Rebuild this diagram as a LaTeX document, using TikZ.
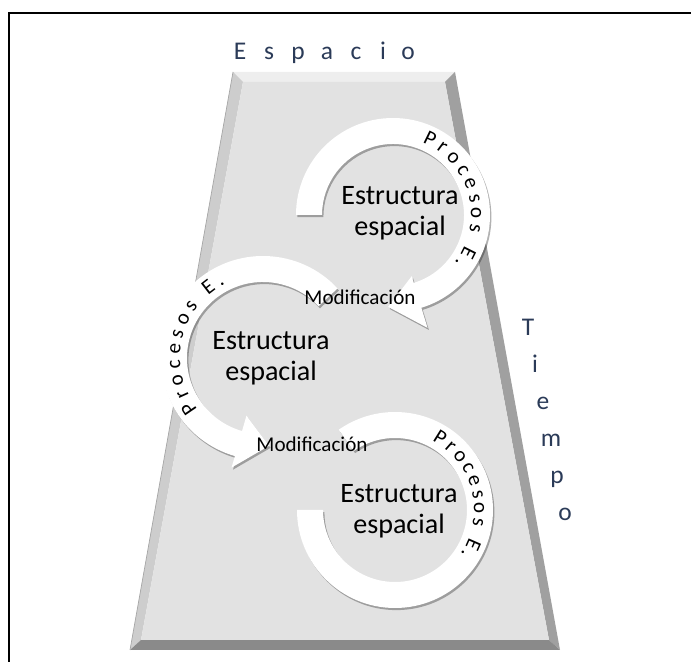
\documentclass[tikz,border=0pt]{standalone}
\usepackage{fontspec}
\setmainfont{Carlito}
\usetikzlibrary{calc,shadows,decorations.text}

\definecolor{letras}{HTML}{2B3B58}
\definecolor{cara}{HTML}{E2E2E2}
\definecolor{biselarriba}{HTML}{EEEEEE}
\definecolor{biselizq}{HTML}{CDCDCD}
\definecolor{biselder}{HTML}{A0A0A0}
\definecolor{biselabajo}{HTML}{8A8A8A}

\tikzset{
  banda/.style={fill=white, drop shadow={shadow xshift=0.8pt, shadow yshift=-1.2pt, opacity=0.3, fill=black}},
  proceso/.style={decorate, decoration={text along path, text align=fit to path,
      text={|\fontsize{12}{14}\selectfont|Procesos E.}}},
  estructura/.style={align=center, font=\fontsize{16}{17.5}\selectfont},
  modif/.style={font=\fontsize{12}{14}\selectfont},
  letra/.style={text=letras, anchor=base, font=\fontsize{14.5}{16}\selectfont}
}

\begin{document}
\begin{tikzpicture}[x=0.02cm, y=-0.02cm]
  \useasboundingbox (0,0) rectangle (691,662);
  \draw[line width=1pt] (9,662) -- (9,13) -- (691,13);

  % trapecio
  \coordinate (tl) at (233,72);
  \coordinate (tr) at (455,72);
  \coordinate (br) at (560,650);
  \coordinate (bl) at (130,650);
  \coordinate (itl) at (243,82);
  \coordinate (itr) at (445,82);
  \coordinate (ibr) at (549,640);
  \coordinate (ibl) at (141,640);
  \fill[biselarriba] (tl) -- (tr) -- (itr) -- (itl) -- cycle;
  \fill[biselizq] (tl) -- (itl) -- (ibl) -- (bl) -- cycle;
  \fill[biselder] (tr) -- (br) -- (ibr) -- (itr) -- cycle;
  \fill[biselabajo] (bl) -- (ibl) -- (ibr) -- (br) -- cycle;
  \fill[cara] (itl) -- (itr) -- (ibr) -- (ibl) -- cycle;
  \draw[gray!70, line width=0.4pt] (tl) -- (bl);

  \foreach \ch/\x [count=\i] in {E/240, s/269, p/298, a/327, c/356, i/383, o/408}
    \node[letra] (esp\i) at (\x,60) {\ch};
  \foreach \ch/\x/\y [count=\i] in {T/528/336, i/535/373, e/543/410, m/551/447, p/557/484, o/565/521}
    \node[letra] (tie\i) at (\x,\y) {\ch};

  % flechas circulares
  \coordinate (c1) at (393,215);
  \coordinate (c2) at (263,358);
  \coordinate (c3) at (395,510);
  \fill[banda] ($(c1)+(180:97)$) arc[start angle=180, end angle=433, radius=97]
    -- ($(c1)+(433:118)$) -- ($(c1)+(453:92)$) -- ($(c1)+(433:64)$) -- ($(c1)+(433:71)$)
    arc[start angle=433, end angle=180, radius=71] -- cycle;
  \fill[banda] ($(c2)+(-43:102)$) arc[start angle=-43, end angle=-254, radius=102]
    -- ($(c2)+(-254:114)$) -- ($(c2)+(-274:88)$) -- ($(c2)+(-254:60)$) -- ($(c2)+(-254:76)$)
    arc[start angle=-254, end angle=-43, radius=76] -- cycle;
  \fill[banda] ($(c3)+(180:98)$) arc[start angle=180, end angle=-125, radius=98]
    -- ($(c3)+(-125:72)$) arc[start angle=-125, end angle=180, radius=72] -- cycle;

  \path[proceso] ($(c1)+(-68:78)$) arc[start angle=-68, end angle=38, radius=78];
  \path[proceso] ($(c2)+(142:83)$) arc[start angle=142, end angle=243, radius=83];
  \path[proceso] ($(c3)+(-62:79)$) arc[start angle=-62, end angle=34, radius=79];

  \node[estructura] (est1) at (400,213) {Estructura\\espacial};
  \node[estructura] (est2) at (271,358) {Estructura\\espacial};
  \node[estructura] (est3) at (399,511) {Estructura\\espacial};
  \node[modif] (mod1) at (360,297) {Modificación};
  \node[modif] (mod2) at (312,444) {Modificación};
\end{tikzpicture}
\end{document}
